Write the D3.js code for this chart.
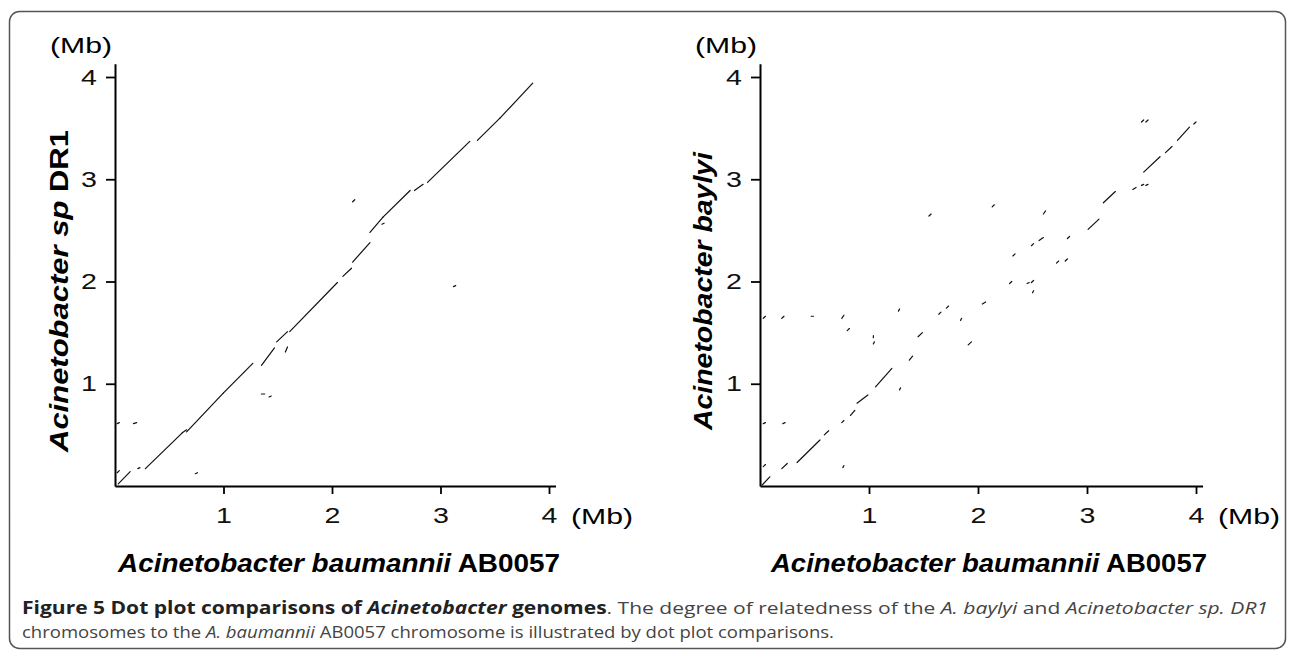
<!DOCTYPE html>
<html>
<head>
<meta charset="utf-8">
<script src="https://cdn.jsdelivr.net/npm/d3@7/dist/d3.min.js"></script>
<style>
body{margin:0;background:#fff;}
svg{display:block;}
.tick text{font-family:"Liberation Sans",Arial,sans-serif;}
</style>
</head>
<body>
<svg id="chart" width="1290" height="652"></svg>
<script>
// tick values (Mb)
var xTicks = [1, 2, 3, 4];
var yTicks = [1, 2, 3, 4];

// genome lengths used as axis extents (Mb)
var xGenome = 4.06;
var yGenomeLeft = 4.13;
var yGenomeRight = 4.13;

// match segments: [x1, y1, x2, y2] in Mb, AB0057 vs Acinetobacter sp DR1
var leftSegs = [
	[0.03,0.02,0.14,0.14],[0.21,0.17,0.23,0.18],[0.28,0.17,0.62,0.52],[0.62,0.52,0.66,0.55],
	[0.66,0.53,1.00,0.91],[1.00,0.91,1.27,1.20],[1.35,1.18,1.47,1.35],[1.49,1.41,1.59,1.51],
	[1.57,1.31,1.59,1.36],[1.61,1.51,2.05,1.99],[2.10,2.05,2.18,2.13],[2.19,2.19,2.35,2.38],
	[2.35,2.48,2.47,2.63],[2.47,2.63,2.72,2.89],[2.76,2.89,2.84,2.95],[2.88,2.97,3.27,3.37],
	[3.34,3.38,3.55,3.60],[3.55,3.60,3.85,3.94],
	[0.02,0.61,0.04,0.62],[0.17,0.61,0.20,0.62],[0.74,0.12,0.76,0.13],[0.02,0.13,0.04,0.15],
	[1.35,0.90,1.38,0.90],[1.42,0.87,1.44,0.88],[2.19,2.78,2.21,2.80],[3.12,1.95,3.14,1.96],
	[2.46,2.56,2.48,2.57]
];

// match segments: AB0057 vs A. baylyi
var rightSegs = [
	[0.02,0.01,0.09,0.09],[0.20,0.17,0.25,0.22],[0.34,0.23,0.55,0.45],[0.59,0.50,0.63,0.54],
	[0.75,0.62,0.77,0.64],[0.83,0.69,0.87,0.74],[0.89,0.81,0.99,0.89],[1.06,0.97,1.21,1.15],
	[1.37,1.23,1.40,1.27],[1.45,1.46,1.49,1.50],[1.64,1.68,1.66,1.70],[1.71,1.74,1.73,1.76],
	[2.04,1.78,2.07,1.80],[2.29,1.98,2.31,2.00],[2.32,2.25,2.34,2.27],[2.49,2.35,2.51,2.37],
	[2.56,2.40,2.60,2.43],[2.82,2.42,2.84,2.44],[3.01,2.51,3.11,2.61],[3.15,2.77,3.26,2.88],
	[3.42,2.90,3.45,2.92],[3.52,3.07,3.67,3.22],[3.72,3.26,3.78,3.32],[3.83,3.38,3.94,3.51],
	[3.98,3.54,4.00,3.56],
	[0.03,1.64,0.05,1.66],[0.20,1.64,0.22,1.66],[0.47,1.66,0.49,1.66],[0.75,1.64,0.77,1.67],
	[0.80,1.52,0.82,1.54],[1.04,1.45,1.04,1.47],[1.04,1.39,1.05,1.41],[1.27,1.71,1.28,1.73],
	[1.84,1.62,1.85,1.64],[1.91,1.38,1.94,1.41],[2.45,1.98,2.47,1.99],[2.49,1.99,2.51,2.01],
	[2.50,1.89,2.51,1.91],[1.28,0.94,1.29,0.96],[0.03,0.61,0.05,0.62],[0.21,0.61,0.23,0.62],
	[0.03,0.19,0.05,0.21],[0.76,0.18,0.77,0.20],[1.55,2.64,1.57,2.66],[2.13,2.73,2.15,2.75],
	[2.60,2.66,2.62,2.69],[3.50,3.56,3.52,3.58],[3.54,3.56,3.56,3.58],[3.50,2.94,3.52,2.95],
	[3.54,2.94,3.56,2.95],[2.72,2.18,2.74,2.20],[2.80,2.20,2.82,2.22]
];

var svg = d3.select('#chart');
var fontAxis = '"Liberation Sans", Arial, sans-serif';
var stretch = 1.3;

// frame
svg.append('rect')
	.attr('x', 9.5).attr('y', 11.5)
	.attr('width', 1276).attr('height', 637)
	.attr('rx', 10).attr('ry', 10)
	.attr('fill', 'none')
	.attr('stroke', '#555')
	.attr('stroke-width', 1.5);

function stretchText(sel)
{
	sel.each(function(){
		var t = d3.select(this);
		var x = +t.attr('x') || 0;
		t.attr('transform', 'translate(' + x + ',0) scale(' + stretch + ',1)').attr('x', 0);
	});
}

function drawPlot(opt)
{
	var g = svg.append('g');
	var x = d3.scaleLinear().domain([0, xGenome]).range([opt.left, opt.left + xGenome * opt.xPer]);
	var y = d3.scaleLinear().domain([0, opt.yGenome]).range([486, 486 - opt.yGenome * 102.25]);

	g.append('g')
		.attr('transform', 'translate(0,486)')
		.call(d3.axisBottom(x).tickValues(xTicks).tickSize(8).tickSizeOuter(0).tickPadding(13).tickFormat(d3.format('d')))
		.call(function(a){
			a.select('.domain').attr('stroke-width', 2);
			a.selectAll('.tick line').attr('stroke-width', 1.8);
			a.selectAll('.tick text').attr('font-size', 22).attr('fill', '#111').call(stretchText);
		});

	g.append('g')
		.attr('transform', 'translate(' + opt.left + ',0)')
		.call(d3.axisLeft(y).tickValues(yTicks).tickSize(9).tickSizeOuter(0).tickPadding(9).tickFormat(d3.format('d')))
		.call(function(a){
			a.select('.domain').attr('stroke-width', 2);
			a.selectAll('.tick line').attr('stroke-width', 1.8);
			a.selectAll('.tick text').attr('font-size', 22).attr('fill', '#111').call(stretchText);
		});

	// unit labels
	g.append('text')
		.attr('x', opt.left - 3).attr('y', 53)
		.attr('text-anchor', 'end')
		.attr('font-family', fontAxis).attr('font-size', 22)
		.attr('textLength', 62).attr('lengthAdjust', 'spacingAndGlyphs')
		.text('(Mb)');
	g.append('text')
		.attr('x', x(4) + 22).attr('y', 524)
		.attr('font-family', fontAxis).attr('font-size', 22)
		.attr('textLength', 62).attr('lengthAdjust', 'spacingAndGlyphs')
		.text('(Mb)');

	// x title
	var xt = g.append('text')
		.attr('x', opt.xTitleX).attr('y', 572)
		.attr('text-anchor', 'middle')
		.attr('font-family', fontAxis).attr('font-size', 25).attr('font-weight', 'bold')
		.attr('textLength', opt.xTitleLen).attr('lengthAdjust', 'spacingAndGlyphs');
	xt.append('tspan').attr('font-style', 'italic').text('Acinetobacter baumannii');
	xt.append('tspan').text(' AB0057');

	// y title
	var yt = g.append('text')
		.attr('transform', 'translate(' + opt.yTitleX + ',291) rotate(-90)')
		.attr('text-anchor', 'middle')
		.attr('font-family', fontAxis).attr('font-size', 25).attr('font-weight', 'bold')
		.attr('textLength', opt.yTitleLen).attr('lengthAdjust', 'spacingAndGlyphs');
	opt.yTitle.forEach(function(p){
		yt.append('tspan').attr('font-style', p[1] ? 'italic' : 'normal').text(p[0]);
	});

	// dot plot matches
	g.append('g')
		.attr('class', 'matches')
		.selectAll('line')
		.data(opt.segs).enter()
		.append('line')
		.attr('x1', function(d){ return x(d[0]); })
		.attr('y1', function(d){ return y(d[1]); })
		.attr('x2', function(d){ return x(d[2]); })
		.attr('y2', function(d){ return y(d[3]); })
		.attr('stroke', '#111')
		.attr('stroke-width', 1.2)
		.attr('stroke-linecap', 'round');
}

drawPlot({left: 115, xPer: 108.5, yGenome: yGenomeLeft, segs: leftSegs,
	xTitleX: 339, xTitleLen: 442, yTitleX: 68, yTitleLen: 322,
	yTitle: [['Acinetobacter sp', true], [' DR1', false]]});
drawPlot({left: 760, xPer: 109, yGenome: yGenomeRight, segs: rightSegs,
	xTitleX: 989, xTitleLen: 436, yTitleX: 712, yTitleLen: 278,
	yTitle: [['Acinetobacter baylyi', true]]});

// caption
var cap = svg.append('g')
	.attr('font-family', '"Open Sans", "Noto Sans", sans-serif')
	.attr('font-size', 17);
var l1 = cap.append('text').attr('x', 22).attr('y', 614)
	.attr('textLength', 1246).attr('lengthAdjust', 'spacingAndGlyphs').attr('fill', '#444');
l1.append('tspan').attr('font-weight', 'bold').attr('fill', '#222').text('Figure 5 Dot plot comparisons of ');
l1.append('tspan').attr('font-weight', 'bold').attr('font-style', 'italic').attr('fill', '#222').text('Acinetobacter');
l1.append('tspan').attr('font-weight', 'bold').attr('fill', '#222').text(' genomes');
l1.append('tspan').text('. The degree of relatedness of the ');
l1.append('tspan').attr('font-style', 'italic').text('A. baylyi');
l1.append('tspan').text(' and ');
l1.append('tspan').attr('font-style', 'italic').text('Acinetobacter sp. DR1');

var l2 = cap.append('text').attr('x', 22).attr('y', 638)
	.attr('textLength', 812).attr('lengthAdjust', 'spacingAndGlyphs').attr('fill', '#444');
l2.append('tspan').text('chromosomes to the ');
l2.append('tspan').attr('font-style', 'italic').text('A. baumannii');
l2.append('tspan').text(' AB0057 chromosome is illustrated by dot plot comparisons.');
</script>
</body>
</html>
